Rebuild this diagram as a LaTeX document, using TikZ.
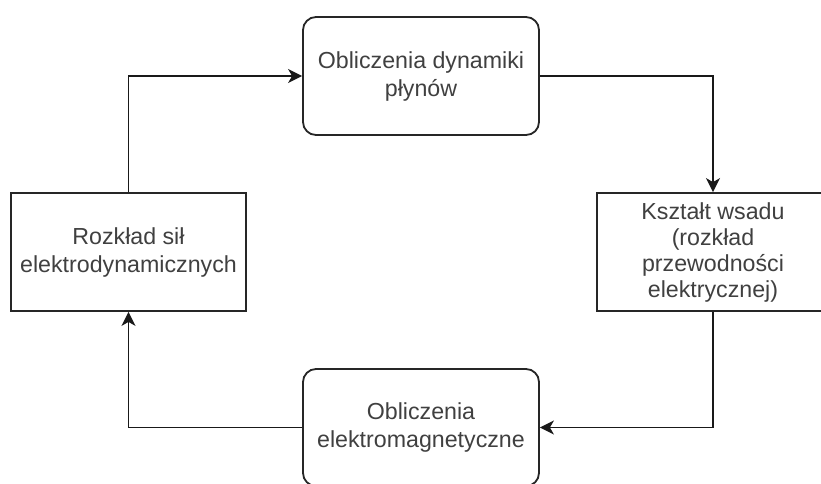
\documentclass[tikz,border=0pt]{standalone}
\usepackage{fontspec}
\setmainfont{Liberation Sans}
\usetikzlibrary{arrows.meta}
\begin{document}
\begin{tikzpicture}[x=1pt,y=-1pt,
  boxbase/.style={draw=black!85, line width=1.8pt, fill=white, text=black!75,
    font=\fontsize{23.2}{28}\selectfont, align=center, inner sep=0pt},
  roundbox/.style={boxbase, rounded corners=13pt, minimum width=236pt, minimum height=118pt},
  sqbox/.style={boxbase, minimum height=118pt},
  conn/.style={draw=black!90, line width=1.7pt, -{Stealth[length=14pt,width=14pt,inset=4pt]}}]
\useasboundingbox[fill=white] (0,0) rectangle (821,483);
\clip (0,0) rectangle (821,483);
\node[roundbox] (top) at (421,76) {Obliczenia dynamiki\\płynów};
\node[sqbox, minimum width=232pt, font=\fontsize{23.2}{26}\selectfont] (right) at (713,252) {Kształt wsadu\\(rozkład\\przewodności\\elektrycznej)};
\node[roundbox, minimum height=117pt] (bot) at (421,427.5) {Obliczenia\\elektromagnetyczne};
\node[sqbox, minimum width=235pt] (left) at (128.5,252) {Rozkład sił\\elektrodynamicznych};
\draw[conn] (left.north) |- (top.west);
\draw[conn] (top.east) -| (right.north);
\draw[conn] (right.south) |- (bot.east);
\draw[conn] (bot.west) -| (left.south);
\end{tikzpicture}
\end{document}
